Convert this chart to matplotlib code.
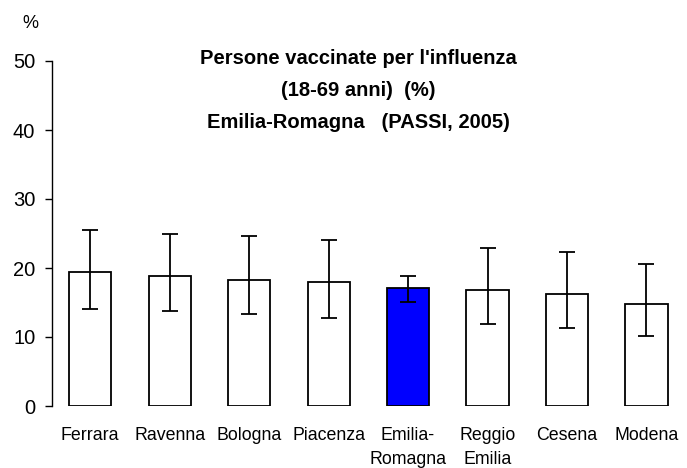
import matplotlib
matplotlib.use("Agg")
import matplotlib.pyplot as plt
import numpy as np

plt.rcParams['font.family'] = ['Liberation Sans', 'DejaVu Sans']

categories = ["Ferrara", "Ravenna", "Bologna", "Piacenza", "Emilia-\nRomagna",
              "Reggio\nEmilia", "Cesena", "Modena"]
values = [19.4, 18.8, 18.3, 18.0, 17.1, 16.8, 16.2, 14.8]
ci_low = [14.0, 13.7, 13.3, 12.8, 15.1, 11.9, 11.3, 10.1]
ci_high = [25.5, 24.9, 24.6, 24.1, 18.8, 22.9, 22.3, 20.6]
highlight = "Emilia-\nRomagna"

fig = plt.figure(figsize=(6.87, 4.68), dpi=100)
ax = fig.add_axes([52/687, 62/468, 635/687, 345/468])

x = np.arange(len(categories))
colors = ["#0000FF" if c == highlight else "white" for c in categories]
vals = np.array(values)
yerr = np.vstack([vals - np.array(ci_low), np.array(ci_high) - vals])
ax.bar(x, vals, width=0.53, color=colors, edgecolor="black", linewidth=1.3, zorder=2)
ax.errorbar(x, vals, yerr=yerr, fmt="none", ecolor="black", elinewidth=1.3,
            capsize=5.5, capthick=1.3, zorder=3)

ax.set_xlim(-0.48, 7.51)
ax.set_ylim(0, 50)
ax.set_yticks([0, 10, 20, 30, 40, 50])
ax.set_xticks(x)
ax.set_xticklabels(categories, fontsize=12.8)
for t in ax.get_xticklabels():
    t.set_linespacing(1.55)
ax.tick_params(axis="y", labelsize=14.5, length=5, width=1, pad=7, direction="out")
ax.tick_params(axis="x", length=0, pad=15)
for s in ["top", "right", "bottom"]:
    ax.spines[s].set_visible(False)
ax.spines["left"].set_linewidth(1)

fig.text(30/687, 1 - 23/468, "%", fontsize=13, ha="center", va="center")
title_lines = ["Persone vaccinate per l'influenza", "(18-69 anni)  (%)",
               "Emilia-Romagna   (PASSI, 2005)"]
for i, line in enumerate(title_lines):
    fig.text(358/687, 1 - (59 + 31.5*i)/468, line, fontsize=14.5, fontweight="bold",
             ha="center", va="center")

fig.savefig("out.png", dpi=100)
